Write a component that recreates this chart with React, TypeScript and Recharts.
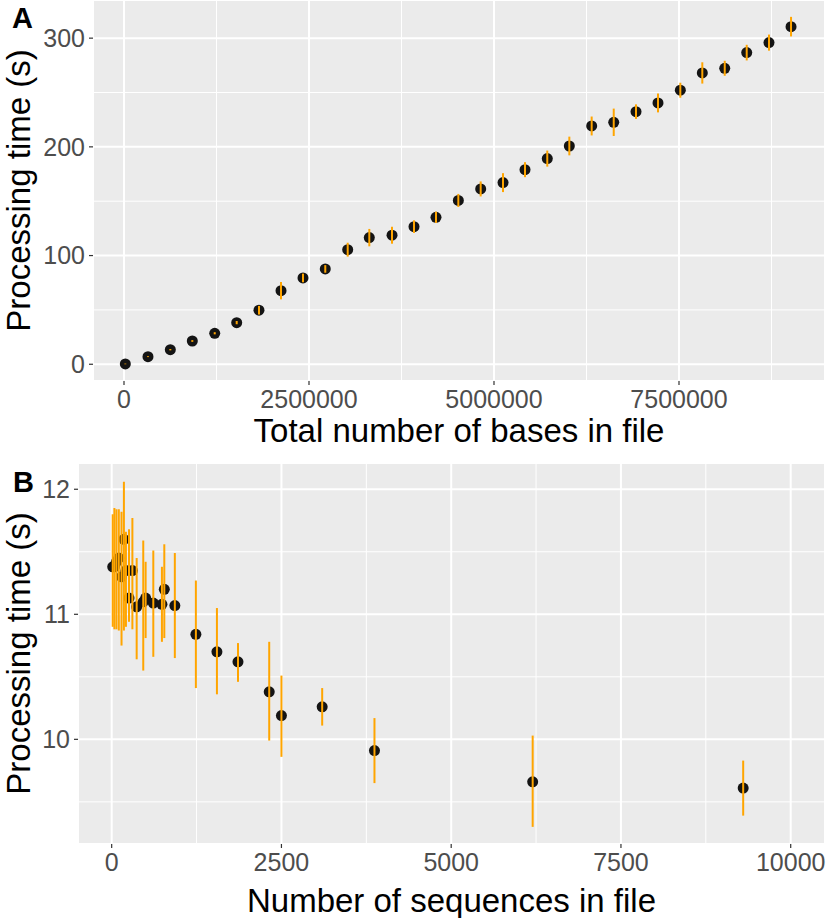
import { ScatterChart, Scatter, XAxis, YAxis, CartesianGrid, ErrorBar, ReferenceLine, Label } from 'recharts'

const FONT = '"Liberation Sans", Arial, Helvetica, sans-serif'
const PANEL = '#EBEBEB'
const ORANGE = '#FFA500'
const DOT = '#141414'
const TICK_TEXT = '#4D4D4D'

// Panel A: processing time vs total bases
const basesInFile = [
  18000, 324000, 626000, 923000, 1226000, 1523000, 1824000, 2122000, 2419000, 2720000,
  3023000, 3315000, 3622000, 3919000, 4216000, 4518000, 4820000, 5122000, 5419000, 5720000,
  6018000, 6320000, 6618000, 6919000, 7216000, 7518000, 7815000, 8118000, 8415000, 8716000,
  9014000,
]
const timeA = [
  0.3, 7.0, 13.4, 21.4, 28.5, 38.3, 49.7, 67.7, 79.4, 87.7,
  105.4, 116.5, 118.7, 126.6, 135.2, 150.7, 161.3, 167.1, 179.0, 189.2,
  200.8, 219.2, 222.6, 232.4, 240.4, 252.1, 268.0, 272.3, 286.7, 295.9,
  310.6,
]
const errA = [
  0.3, 0.4, 0.6, 0.8, 1.0, 1.5, 4.0, 8.0, 4.0, 3.5,
  6.4, 8.0, 7.8, 5.8, 5.2, 6.0, 6.9, 8.7, 6.9, 7.4,
  8.6, 8.7, 12.6, 6.7, 8.7, 6.9, 9.8, 6.9, 7.2, 7.4,
  9.0,
]
const xTicksA = [0, 2500000, 5000000, 7500000]
const xMinorA = [1250000, 3750000, 6250000, 8750000]
const yTicksA = [0, 100, 200, 300]
const yMinorA = [50, 150, 250]

// Panel B: processing time vs number of sequences
const seqCount = [
  15, 40, 70, 105, 145, 180, 210, 255, 305, 368,
  465, 500, 613, 740, 775, 930, 1240, 1550, 1860, 2320,
  2500, 3100, 3870, 6200, 9300,
]
const timeB = [
  11.38, 11.38, 11.42, 11.45, 11.30, 11.60, 11.35, 11.13, 11.35, 11.06,
  11.10, 11.13, 11.09, 11.08, 11.20, 11.07, 10.84, 10.70, 10.62, 10.38,
  10.19, 10.26, 9.91, 9.66, 9.61,
]
const lowB = [
  10.90, 10.88, 10.88, 10.87, 10.75, 10.87, 10.90, 10.94, 10.88, 10.64,
  10.55, 10.81, 10.66, 10.78, 10.81, 10.65, 10.41, 10.36, 10.46, 9.99,
  9.86, 10.11, 9.65, 9.30, 9.39,
]
const highB = [
  11.80, 11.85, 11.84, 11.84, 11.82, 12.06, 11.66, 11.68, 11.77, 11.45,
  11.59, 11.42, 11.51, 11.38, 11.56, 11.49, 11.27, 11.05, 10.77, 10.78,
  10.51, 10.41, 10.17, 10.03, 9.83,
]
const xTicksB = [0, 2500, 5000, 7500, 10000]
const xMinorB = [1250, 3750, 6250, 8750]
const yTicksB = [10, 11, 12]
const yMinorB = [9.5, 10.5, 11.5]

const dataA = basesInFile.map((x, i) => ({ x, y: timeA[i], err: errA[i] }))
const dataB = seqCount.map((x, i) => ({ x, y: timeB[i], err: [timeB[i] - lowB[i], highB[i] - timeB[i]] }))

const Dot = (p: any) => <circle cx={p.cx} cy={p.cy} r={5.5} fill={DOT} />
const NoMark = () => <g />

interface PanelProps {
  data: { x: number; y: number; err: number | number[] }[]
  height: number
  marginTop: number
  yAxisWidth: number
  xAxisHeight: number
  xDomain: [number, number]
  yDomain: [number, number]
  xTicks: number[]
  yTicks: number[]
  xMinor: number[]
  yMinor: number[]
  xTitle: string
  xTitleOffset: number
  yTitleOffset: number
}

function Panel(p: PanelProps) {
  const tick = { fill: TICK_TEXT, fontSize: 25, fontFamily: FONT }
  const title = { fontSize: 33, fontFamily: FONT, fill: '#000' }
  return (
    <ScatterChart width={826} height={p.height} margin={{ top: p.marginTop, right: 1, bottom: 0, left: 0 }}>
      <CartesianGrid fill={PANEL} fillOpacity={1} stroke="#fff" strokeWidth={2} />
      {p.xMinor.map((v) => (
        <ReferenceLine key={'vx' + v} x={v} stroke="#fff" strokeWidth={1} />
      ))}
      {p.yMinor.map((v) => (
        <ReferenceLine key={'hy' + v} y={v} stroke="#fff" strokeWidth={1} />
      ))}
      <XAxis
        type="number"
        dataKey="x"
        domain={p.xDomain}
        ticks={p.xTicks}
        allowDataOverflow
        axisLine={false}
        tickSize={4}
        tickMargin={5}
        tickLine={{ stroke: '#333', strokeWidth: 1.2 }}
        tick={tick}
        height={p.xAxisHeight}
      >
        <Label value={p.xTitle} position="insideBottom" offset={p.xTitleOffset} style={title} />
      </XAxis>
      <YAxis
        type="number"
        dataKey="y"
        domain={p.yDomain}
        ticks={p.yTicks}
        allowDataOverflow
        axisLine={false}
        tickSize={4}
        tickMargin={4}
        tickLine={{ stroke: '#333', strokeWidth: 1.2 }}
        tick={tick}
        width={p.yAxisWidth}
      >
        <Label
          value="Processing time (s)"
          angle={-90}
          position="insideLeft"
          offset={p.yTitleOffset}
          style={{ ...title, textAnchor: 'middle' }}
        />
      </YAxis>
      <Scatter data={p.data} shape={Dot} isAnimationActive={false} />
      {/* error bars go over the dots, like the ggplot layer order */}
      <Scatter data={p.data} shape={NoMark} isAnimationActive={false} {...({ zIndex: 900 } as any)}>
        <ErrorBar
          dataKey="err"
          direction="y"
          width={0}
          stroke={ORANGE}
          strokeWidth={2}
          {...({ zIndex: 950 } as any)}
        />
      </Scatter>
    </ScatterChart>
  )
}

export default function App() {
  return (
    <div style={{ position: 'absolute', left: 0, top: 0, width: 826, height: 918, background: '#fff', overflow: 'hidden' }}>
      <div style={{ position: 'absolute', left: 0, top: 0 }}>
        <Panel
          data={dataA}
          height={450}
          marginTop={0}
          yAxisWidth={93}
          xAxisHeight={69}
          xDomain={[-418900, 9473000]}
          yDomain={[-15.4, 335.1]}
          xTicks={xTicksA}
          yTicks={yTicksA}
          xMinor={xMinorA}
          yMinor={yMinorA}
          xTitle="Total number of bases in file"
          xTitleOffset={8}
          yTitleOffset={18}
        />
      </div>
      <div style={{ position: 'absolute', left: 0, top: 450 }}>
        <Panel
          data={dataB}
          height={468}
          marginTop={13}
          yAxisWidth={78}
          xAxisHeight={74}
          xDomain={[-496, 10505]}
          yDomain={[9.163, 12.21]}
          xTicks={xTicksB}
          yTicks={yTicksB}
          xMinor={xMinorB}
          yMinor={yMinorB}
          xTitle="Number of sequences in file"
          xTitleOffset={6}
          yTitleOffset={18.5}
        />
      </div>
      <svg width={826} height={918} style={{ position: 'absolute', left: 0, top: 0, pointerEvents: 'none' }}>
        <text x={12} y={28} fontFamily={FONT} fontWeight="bold" fontSize={29} fill="#000">A</text>
        <text x={13} y={492} fontFamily={FONT} fontWeight="bold" fontSize={29} fill="#000">B</text>
      </svg>
    </div>
  )
}
